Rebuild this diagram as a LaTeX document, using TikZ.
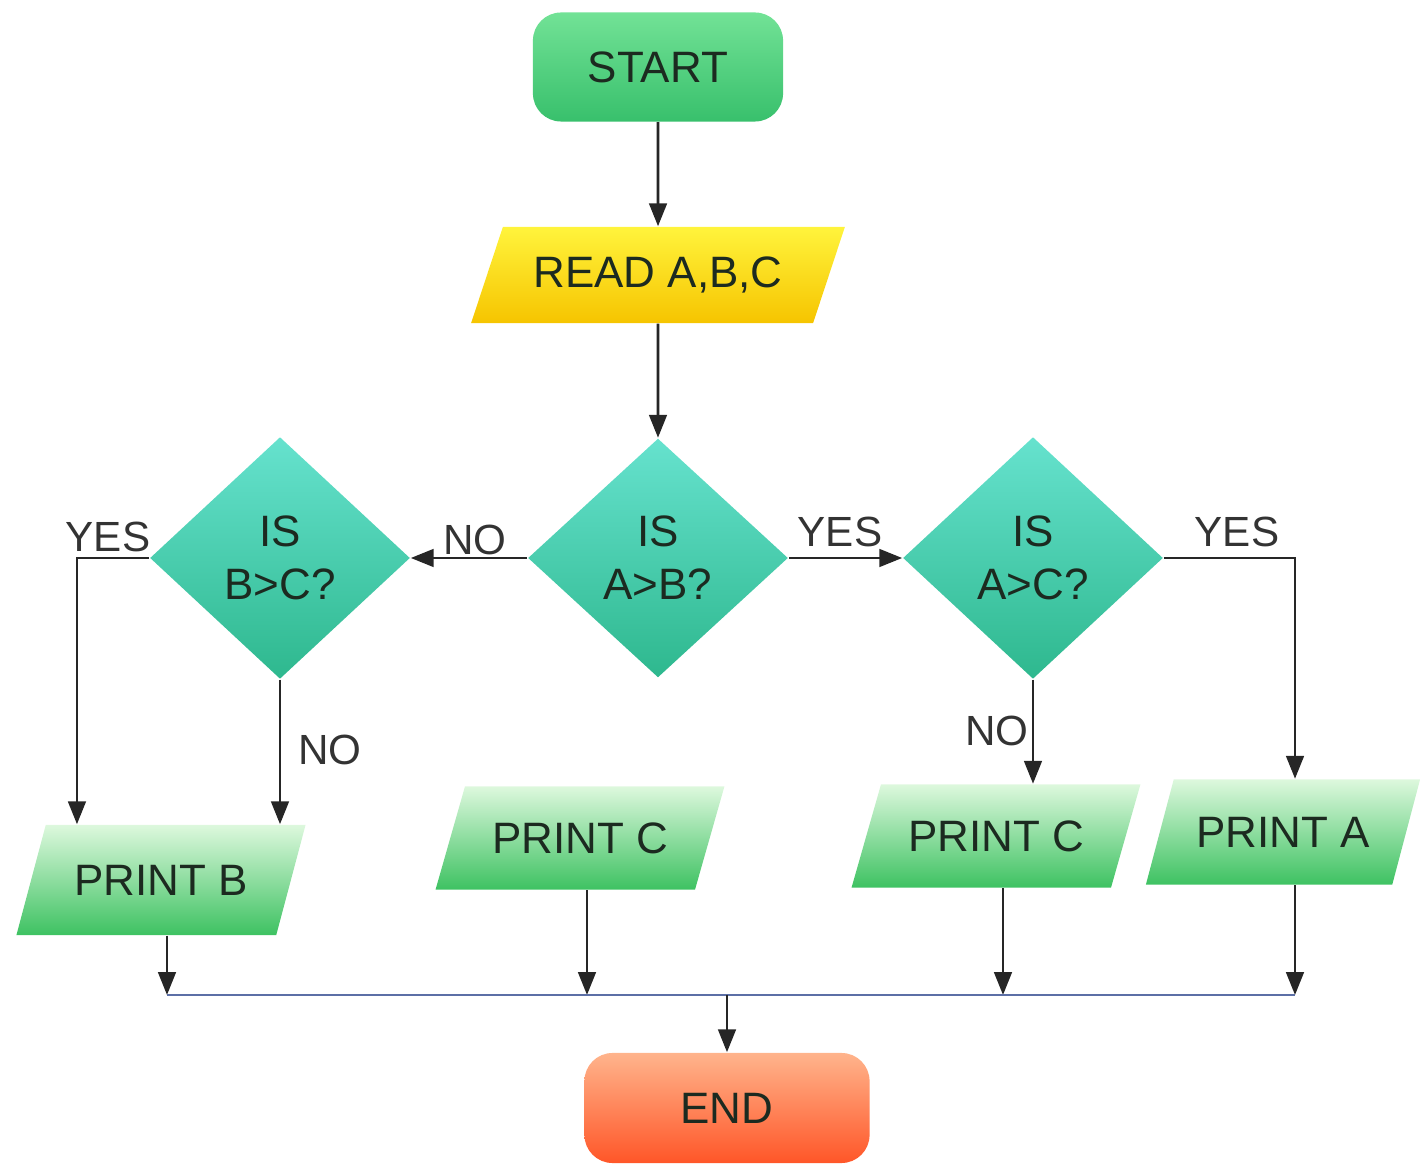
\documentclass[tikz,border=0pt]{standalone}
\usepackage{fontspec}
\setmainfont{Liberation Sans}
\usepackage{xcolor}
\usepackage{tikz}
\usetikzlibrary{arrows.meta,shapes.geometric}

\definecolor{inktext}{HTML}{1C2A20}
\definecolor{mergeblue}{HTML}{5C6FA6}
\definecolor{tealtop}{HTML}{66E2CE}
\definecolor{tealbot}{HTML}{2EB88E}
\definecolor{greentop}{HTML}{72E296}
\definecolor{greenbot}{HTML}{38C06C}
\definecolor{printtop}{HTML}{DDF8DD}
\definecolor{printbot}{HTML}{3EC262}
\definecolor{readtop}{HTML}{FFF43C}
\definecolor{readbot}{HTML}{F6C400}
\definecolor{endtop}{HTML}{FFB48C}
\definecolor{endbot}{HTML}{FF5628}

\tikzset{
  flow/.style={draw=black!85, line width=0.8pt, -{Triangle[length=6.5pt,width=5pt]}},
  termbox/.style={rectangle, rounded corners=8pt, minimum width=2.5cm, minimum height=1.09cm,
    font=\fontsize{12.5}{15}\selectfont, text=inktext},
  iobox/.style={trapezium, trapezium left angle=65, trapezium right angle=115,
    trapezium stretches=true, minimum width=2.9cm, minimum height=1.05cm,
    font=\fontsize{12.5}{15}\selectfont, text=inktext,
    top color=printtop, bottom color=printbot},
  decision/.style={diamond, minimum width=2.6cm, minimum height=2.32cm, align=center,
    font=\fontsize{12.5}{15}\selectfont, text=inktext,
    top color=tealtop, bottom color=tealbot},
  lbl/.style={font=\fontsize{12}{14}\selectfont, text=black!80, inner sep=0pt}
}

\begin{document}
\begin{tikzpicture}[x=0.01cm, y=-0.01cm]
\useasboundingbox (0,0) rectangle (1420,1167);

% terminals and input
\node (start) at (658,67) [termbox, top color=greentop, bottom color=greenbot] {START};
\node (read) at (658,275) [iobox, minimum width=3.74cm, minimum height=0.96cm,
  top color=readtop, bottom color=readbot] {READ A,B,C};

% decisions
\node (ab) at (658,558) [decision] {IS\\A>B?};
\node (bc) at (280,558) [decision] {IS\\B>C?};
\node (ac) at (1033,558) [decision, minimum height=2.3cm] {IS\\A>C?};

% outputs
\node (printb) at (161,880) [iobox, minimum height=1.1cm] {PRINT B};
\node (printc) at (580,838) [iobox, minimum height=1.03cm] {PRINT C};
\node (printcc) at (996,836) [iobox, minimum height=1.03cm] {PRINT C};
\node (printa) at (1283,832) [iobox, minimum width=2.75cm] {PRINT A};

\node (end) at (727,1108) [termbox, minimum width=2.85cm, minimum height=1.1cm,
  top color=endtop, bottom color=endbot] {END};

% labels
\node (yesbc) at (108,537) [lbl] {YES};
\node (noab) at (475,540) [lbl] {NO};
\node (yesab) at (840,532) [lbl] {YES};
\node (yesac) at (1237,532) [lbl] {YES};
\node (nobc) at (330,750) [lbl] {NO};
\node (noac) at (997,731) [lbl] {NO};

% connectors
\draw [flow] (start) -- (read);
\draw [flow] (read) -- (ab);
\draw [flow] (ab.west) -- (bc.east);
\draw [flow] (ab.east) -- (ac.west);
\draw [flow] (bc.west) -| ([xshift=-0.84cm]printb.north);
\draw [flow] (bc.south) -- (bc.south |- printb.north);
\draw [flow] (ac.east) -| ([xshift=0.12cm]printa.north);
\draw [flow] (ac.south) -- (ac.south |- printcc.north);

% merge line
\coordinate (mb) at (167,995);
\coordinate (mc) at (587,995);
\coordinate (mcc) at (1003,995);
\coordinate (ma) at (1295,995);
\coordinate (join) at (727,995);
\draw [flow] (mb |- printb.south) -- (mb);
\draw [flow] (mc |- printc.south) -- (mc);
\draw [flow] (mcc |- printcc.south) -- (mcc);
\draw [flow] (ma |- printa.south) -- (ma);
\draw [mergeblue, line width=0.6pt] (mb) -- (ma);
\draw [flow] (join) -- (end);
\end{tikzpicture}
\end{document}
